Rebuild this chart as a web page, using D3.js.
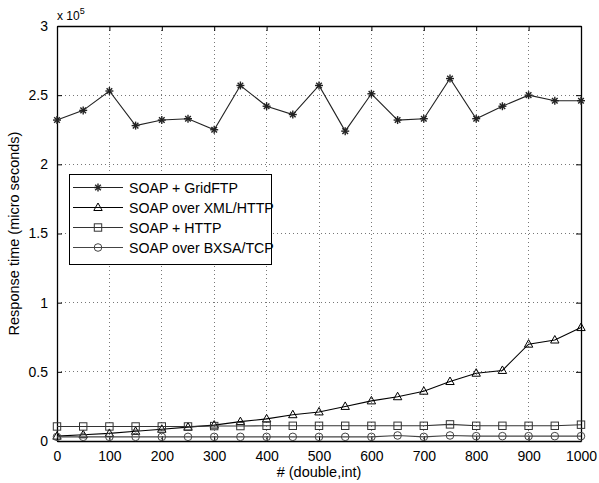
<!DOCTYPE html>
<html><head><meta charset="utf-8">
<script src="https://cdn.jsdelivr.net/npm/d3@7/dist/d3.min.js"></script>
<style>body{margin:0;background:#fff}svg{display:block}text{font-family:"Liberation Sans",Arial,sans-serif}</style>
</head><body><div id="c"></div>
<script>
const xValues = [0,50,100,150,200,250,300,350,400,450,500,550,600,650,700,750,800,850,900,950,1000];
const gridFTP = [2.32,2.39,2.53,2.28,2.32,2.33,2.25,2.57,2.42,2.36,2.57,2.24,2.51,2.32,2.33,2.62,2.33,2.42,2.50,2.46,2.46];
const xmlHTTP = [0.035,0.045,0.055,0.07,0.085,0.10,0.115,0.14,0.16,0.19,0.21,0.25,0.29,0.32,0.36,0.43,0.49,0.51,0.70,0.73,0.82];
const soapHTTP = [0.105,0.105,0.105,0.105,0.105,0.105,0.108,0.108,0.11,0.11,0.11,0.11,0.11,0.11,0.11,0.12,0.11,0.11,0.11,0.11,0.118];
const bxsaTCP = [0.03,0.03,0.03,0.03,0.03,0.03,0.03,0.03,0.03,0.03,0.03,0.03,0.03,0.04,0.03,0.04,0.035,0.035,0.035,0.035,0.035];
const seriesNames = ["SOAP + GridFTP","SOAP over XML/HTTP","SOAP + HTTP","SOAP over BXSA/TCP"];
const xTicks = [0,100,200,300,400,500,600,700,800,900,1000];
const yTicks = [0,0.5,1,1.5,2,2.5,3];
const yTickLabels = ["0","0.5","1","1.5","2","2.5","3"];

const W=599,H=483, L=57,R=581,T=26,B=441;
const svg=d3.select("#c").append("svg").attr("width",W).attr("height",H);
const x=d3.scaleLinear().domain([0,1000]).range([L,R]);
const y=d3.scaleLinear().domain([0,3]).range([B,T]);

// grid
const g=svg.append("g");
xTicks.slice(1,-1).forEach(v=>g.append("line").attr("x1",x(v)).attr("x2",x(v)).attr("y1",T).attr("y2",B)
  .attr("stroke","#777").attr("stroke-width",1).attr("stroke-dasharray","1,3").attr("shape-rendering","crispEdges"));
yTicks.slice(1,-1).forEach(v=>g.append("line").attr("y1",y(v)).attr("y2",y(v)).attr("x1",L).attr("x2",R)
  .attr("stroke","#777").attr("stroke-width",1).attr("stroke-dasharray","1,3").attr("shape-rendering","crispEdges"));

// axes with ticks inward
const ax=svg.append("g");
const xAxB=d3.axisBottom(x).tickValues(xTicks).tickSizeInner(-5).tickSizeOuter(0).tickPadding(10).tickFormat(d3.format("d"));
ax.append("g").attr("transform",`translate(0,${B})`).call(xAxB);
const xAxT=d3.axisTop(x).tickValues(xTicks).tickSizeInner(-5).tickSizeOuter(0).tickFormat("");
ax.append("g").attr("transform",`translate(0,${T})`).call(xAxT);
const yAxL=d3.axisLeft(y).tickValues(yTicks).tickSizeInner(-5).tickSizeOuter(0).tickPadding(9).tickFormat((d,i)=>yTickLabels[i]);
ax.append("g").attr("transform",`translate(${L},0)`).call(yAxL);
const yAxR=d3.axisRight(y).tickValues(yTicks).tickSizeInner(-5).tickSizeOuter(0).tickFormat("");
ax.append("g").attr("transform",`translate(${R},0)`).call(yAxR);
ax.selectAll(".domain").attr("stroke","#000").attr("stroke-width",1.3);
ax.selectAll(".tick line").attr("stroke","#000");
ax.selectAll("text").attr("font-size",14).attr("font-family","Liberation Sans, Arial, sans-serif").attr("fill","#000");

// exponent label
const ex=svg.append("text").attr("x",57).attr("y",20).attr("font-size",12);
ex.append("tspan").text("x 10");
ex.append("tspan").attr("dy",-6).attr("font-size",9).text("5");

// axis labels
svg.append("text").attr("x",(L+R)/2).attr("y",477).attr("text-anchor","middle").attr("font-size",14.5).text("# (double,int)");
svg.append("text").attr("transform",`translate(19,${(T+B)/2}) rotate(-90)`).attr("text-anchor","middle").attr("font-size",14.5).text("Response time (micro seconds)");

const seriesData=[gridFTP,xmlHTTP,soapHTTP,bxsaTCP];
const colors=["#222","#000","#333","#444"];
const markers=["star","tri","sq","circ"];
function drawMarker(sel,type,cx,cy,col){
  const m=sel.append("g").attr("transform",`translate(${cx},${cy})`).attr("fill","none").attr("stroke",col).attr("stroke-width",1);
  if(type==="star"){
    const r=4;
    [[-r,0,r,0],[0,-r,0,r],[-r*0.7,-r*0.7,r*0.7,r*0.7],[-r*0.7,r*0.7,r*0.7,-r*0.7]].forEach(a=>
      m.append("line").attr("x1",a[0]).attr("y1",a[1]).attr("x2",a[2]).attr("y2",a[3]).attr("stroke-width",1.4));
  } else if(type==="tri"){
    m.append("path").attr("d","M0,-4.5L4.2,3L-4.2,3Z");
  } else if(type==="sq"){
    m.append("rect").attr("x",-3.7).attr("y",-3.7).attr("width",7.4).attr("height",7.4);
  } else {
    m.append("circle").attr("r",3.8);
  }
}
const line=d3.line().x((d,i)=>x(xValues[i])).y(d=>y(d));
seriesData.forEach((s,k)=>{
  const gg=svg.append("g");
  gg.append("path").datum(s).attr("d",line).attr("fill","none").attr("stroke",colors[k]).attr("stroke-width",1.1);
  s.forEach((v,i)=>drawMarker(gg,markers[k],x(xValues[i]),y(v),colors[k]));
});

// legend
const lg=svg.append("g");
lg.append("rect").attr("x",69.5).attr("y",174.5).attr("width",202).attr("height",90).attr("fill","#fff").attr("stroke","#000").attr("stroke-width",1);
seriesNames.forEach((n,k)=>{
  const yy=187.5+k*20;
  lg.append("line").attr("x1",73).attr("x2",123).attr("y1",yy).attr("y2",yy).attr("stroke",colors[k]).attr("stroke-width",1.1);
  drawMarker(lg,markers[k],98,yy,colors[k]);
  lg.append("text").attr("x",129).attr("y",yy+5).attr("font-size",14.2).text(n);
});
</script></body></html>
